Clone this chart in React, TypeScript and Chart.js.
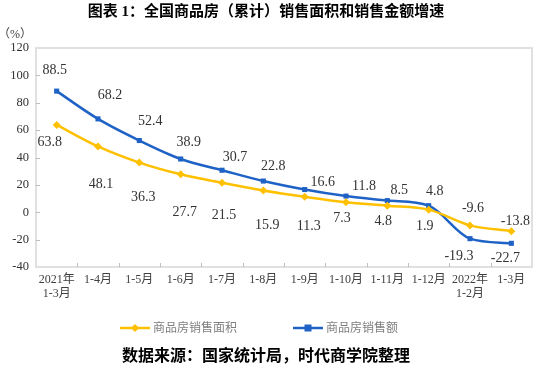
import React, { useEffect, useRef } from "react";
import { Chart, registerables } from "chart.js";

Chart.register(...registerables);

const categories: (string | string[])[] = [
  ["2021年", "1-3月"], "1-4月", "1-5月", "1-6月", "1-7月", "1-8月", "1-9月",
  "1-10月", "1-11月", "1-12月", ["2022年", "1-2月"], "1-3月",
];
const areaGrowth = [63.8, 48.1, 36.3, 27.7, 21.5, 15.9, 11.3, 7.3, 4.8, 1.9, -9.6, -13.8];
const amountGrowth = [88.5, 68.2, 52.4, 38.9, 30.7, 22.8, 16.6, 11.8, 8.5, 4.8, -19.3, -22.7];
const seriesNames = ["商品房销售面积", "商品房销售额"];
const yMin = -40;
const yMax = 120;
const yStep = 20;
const titleText = "图表 1：全国商品房（累计）销售面积和销售金额增速";
const sourceText = "数据来源：国家统计局，时代商学院整理";
const unitText = "（%）";

// label placement style (pixel offsets from each point)
const areaLabelOffsets = [[-7, 17], [3, 38], [4, 35], [4, 38], [2, 33], [4, 35], [4, 30], [-4, 16], [-4, 16], [-4, 17], [3, -17], [4, -10]];
const amountLabelOffsets = [[-2, -21], [12, -24], [11, -19], [8, -17], [13, -13], [10, -15], [18, -7], [18, -10], [12, -10], [6, -14], [-11, 18], [-6, 15]];

const YELLOW = "#ffc000";
const BLUE = "#1f62c6";
const SERIF = "'Liberation Serif', 'Noto Sans CJK SC', serif";

export default function App() {
  const ref = useRef<HTMLCanvasElement | null>(null);

  useEffect(() => {
    if (!ref.current) return;

    const decor = {
      id: "decor",
      beforeDatasetsDraw(chart: any) {
        const { ctx, chartArea } = chart;
        const { left, right, top, bottom } = chartArea;
        ctx.save();
        ctx.strokeStyle = "#d9d9d9";
        ctx.lineWidth = 1.6;
        ctx.strokeRect(left, top, right - left, bottom - top);
        ctx.strokeStyle = "#bfbfbf";
        ctx.lineWidth = 1;
        const n = categories.length;
        const w = (right - left) / n;
        for (let i = 1; i < n; i++) {
          const x = Math.round(left + i * w) + 0.5;
          ctx.beginPath();
          ctx.moveTo(x, bottom);
          ctx.lineTo(x, bottom - 4);
          ctx.stroke();
        }
        const ys = chart.scales.y;
        for (let v = yMin + yStep; v < yMax; v += yStep) {
          const y = Math.round(ys.getPixelForValue(v)) + 0.5;
          ctx.beginPath();
          ctx.moveTo(left, y);
          ctx.lineTo(left + 4, y);
          ctx.stroke();
        }
        ctx.restore();
      },
      afterDatasetsDraw(chart: any) {
        const { ctx } = chart;
        ctx.save();
        ctx.font = `14px ${SERIF}`;
        ctx.fillStyle = "#333333";
        ctx.textAlign = "center";
        ctx.textBaseline = "middle";
        const sets = [
          { idx: 0, vals: areaGrowth, offs: areaLabelOffsets },
          { idx: 1, vals: amountGrowth, offs: amountLabelOffsets },
        ];
        sets.forEach(({ idx, vals, offs }) => {
          const meta = chart.getDatasetMeta(idx);
          meta.data.forEach((pt: any, i: number) => {
            const [dx, dy] = offs[i];
            ctx.fillText(vals[i].toFixed(1), pt.x + dx, pt.y + dy);
          });
        });
        ctx.restore();
      },
      afterDraw(chart: any) {
        const { ctx } = chart;
        ctx.save();
        ctx.font = `12px ${SERIF}`;
        ctx.fillStyle = "#404040";
        ctx.textAlign = "center";
        ctx.textBaseline = "middle";
        ctx.fillText(unitText, 15, 35);
        const ly = 328;
        const items = [
          { x: 120, color: YELLOW, shape: "diamond", text: seriesNames[0] },
          { x: 293, color: BLUE, shape: "square", text: seriesNames[1] },
        ];
        items.forEach((it) => {
          ctx.strokeStyle = it.color;
          ctx.fillStyle = it.color;
          ctx.lineWidth = 2.5;
          ctx.beginPath();
          ctx.moveTo(it.x, ly);
          ctx.lineTo(it.x + 30, ly);
          ctx.stroke();
          const cx = it.x + 15;
          ctx.beginPath();
          if (it.shape === "diamond") {
            ctx.moveTo(cx, ly - 4);
            ctx.lineTo(cx + 4, ly);
            ctx.lineTo(cx, ly + 4);
            ctx.lineTo(cx - 4, ly);
            ctx.closePath();
          } else {
            ctx.rect(cx - 3.5, ly - 3.5, 7, 7);
          }
          ctx.fill();
          ctx.font = `12px ${SERIF}`;
          ctx.fillStyle = "#7f7f7f";
          ctx.textAlign = "left";
          ctx.textBaseline = "middle";
          ctx.fillText(it.text, it.x + 33, ly + 1);
        });
        ctx.restore();
      },
    };

    const chart = new Chart(ref.current, {
      type: "line",
      data: {
        labels: categories,
        datasets: [
          {
            label: seriesNames[0],
            data: areaGrowth,
            borderColor: YELLOW,
            backgroundColor: YELLOW,
            borderWidth: 2.5,
            pointStyle: "rectRot",
            pointRadius: 4,
            pointBorderWidth: 0,
            cubicInterpolationMode: "monotone",
          },
          {
            label: seriesNames[1],
            data: amountGrowth,
            borderColor: BLUE,
            backgroundColor: BLUE,
            borderWidth: 2.5,
            pointStyle: "rect",
            pointRadius: 3.6,
            pointBorderWidth: 0,
            cubicInterpolationMode: "monotone",
          },
        ],
      },
      options: {
        responsive: false,
        animation: false,
        layout: { padding: { left: 0, right: 18, top: 0, bottom: 0 } },
        plugins: {
          legend: { display: false },
          tooltip: { enabled: false },
          title: {
            display: true,
            text: titleText,
            color: "#000000",
            font: { size: 15, weight: "bold", family: SERIF, lineHeight: 1.2 },
            padding: { top: 3, bottom: 27 },
          },
          subtitle: {
            display: true,
            position: "bottom",
            text: sourceText,
            color: "#000000",
            font: { size: 16, weight: "bold", family: SERIF, lineHeight: 1.2 },
            padding: { top: 0, bottom: 5 },
          },
        },
        scales: {
          x: {
            type: "category",
            offset: true,
            grid: { display: false, drawTicks: false },
            border: { display: false },
            ticks: {
              autoSkip: false,
              maxRotation: 0,
              minRotation: 0,
              padding: 6,
              color: "#404040",
              font: { size: 12, family: SERIF, lineHeight: 1.15 },
            },
            afterFit: (s: any) => {
              s.height = 79.8;
            },
          },
          y: {
            min: yMin,
            max: yMax,
            grid: { display: false, drawTicks: false },
            border: { display: false },
            ticks: {
              stepSize: yStep,
              padding: 7,
              color: "#333333",
              font: { size: 12.5, family: SERIF },
            },
            afterFit: (s: any) => {
              s.width = 36;
            },
          },
        },
      },
      plugins: [decor],
    });

    return () => chart.destroy();
  }, []);

  return (
    <div style={{ position: "absolute", left: 0, top: 0, width: 550, height: 371, background: "#fff" }}>
      <canvas ref={ref} width={550} height={371} />
    </div>
  );
}
